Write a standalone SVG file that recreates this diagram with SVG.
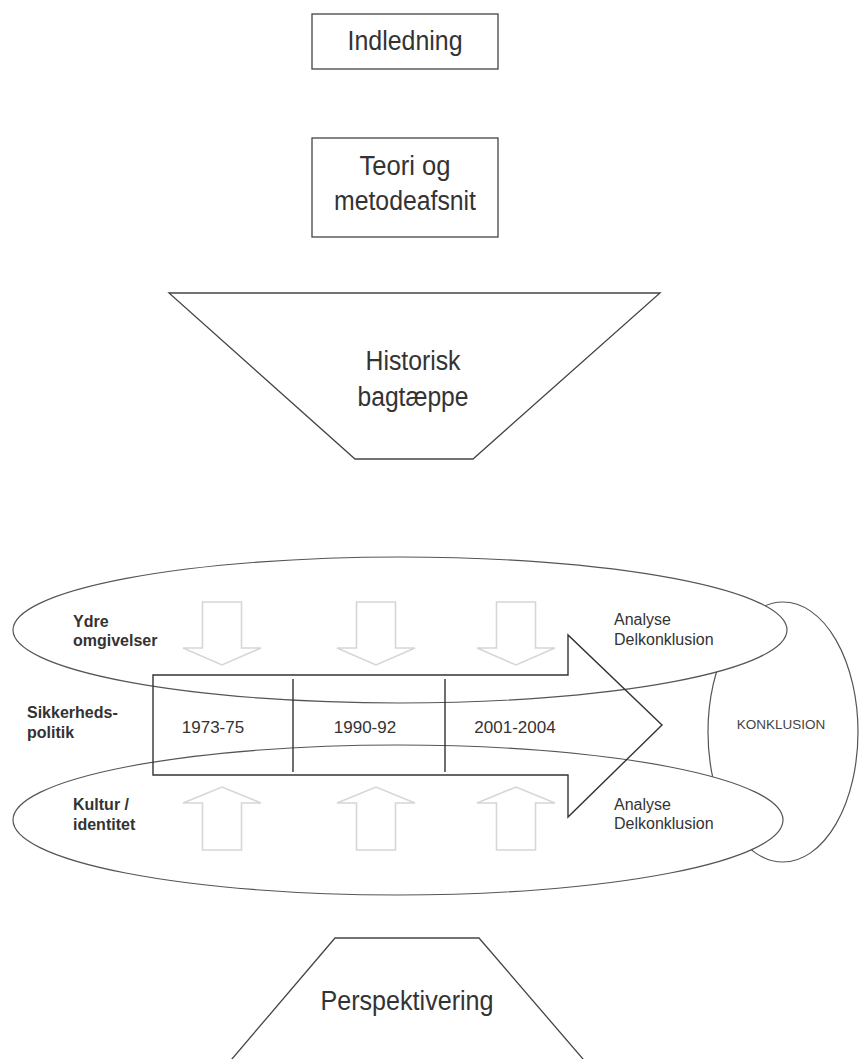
<svg xmlns="http://www.w3.org/2000/svg" width="859" height="1059" viewBox="0 0 859 1059">
<style>
  .shape { fill: #ffffff; stroke: #444444; stroke-width: 1.3; }
  .line { fill: none; stroke: #333333; stroke-width: 1.4; }
  .ell { fill: #ffffff; stroke: #555555; stroke-width: 1.2; }
  .light { fill: #ffffff; stroke: #d6d6d6; stroke-width: 1.6; }
  .big { font-family: "Liberation Sans Narrow", "Liberation Sans", Arial, sans-serif; font-size: 27px; fill: #333333; text-anchor: middle; }
  .lbl { font-family: "Liberation Sans", Arial, sans-serif; font-size: 16px; font-weight: bold; fill: #333333; }
  .sm { font-family: "Liberation Sans", Arial, sans-serif; font-size: 16px; fill: #333333; }
  .yr { font-family: "Liberation Sans", Arial, sans-serif; font-size: 17px; fill: #333333; text-anchor: middle; }
  .kon { font-family: "Liberation Sans", Arial, sans-serif; font-size: 13.5px; fill: #444444; text-anchor: middle; }
</style>
<rect x="0" y="0" width="859" height="1059" fill="#ffffff"/>

<g id="indledning">
  <rect class="shape" x="312" y="14" width="186" height="55"/>
  <text class="big" x="405" y="50" textLength="115" lengthAdjust="spacingAndGlyphs">Indledning</text>
</g>

<g id="teori">
  <rect class="shape" x="312" y="138" width="186" height="99"/>
  <text class="big" x="405" y="175" textLength="91" lengthAdjust="spacingAndGlyphs">Teori og</text>
  <text class="big" x="405" y="210" textLength="142" lengthAdjust="spacingAndGlyphs">metodeafsnit</text>
</g>

<g id="historisk">
  <polygon class="shape" points="169,293 660,293 473,459 355,459"/>
  <text class="big" x="413" y="370" textLength="95" lengthAdjust="spacingAndGlyphs">Historisk</text>
  <text class="big" x="413" y="406" textLength="111" lengthAdjust="spacingAndGlyphs">bagtæppe</text>
</g>

<g id="konklusion">
  <ellipse class="ell" cx="783" cy="732" rx="75" ry="130"/>
  <text class="kon" x="781" y="729">KONKLUSION</text>
</g>

<g id="ydre-omgivelser">
  <ellipse class="ell" cx="400" cy="630" rx="387" ry="73"/>
  <text class="lbl" x="73" y="627">Ydre</text>
  <text class="lbl" x="73" y="646">omgivelser</text>
  <text class="sm" x="614" y="625">Analyse</text>
  <text class="sm" x="614" y="645">Delkonklusion</text>
</g>

<g id="kultur-identitet">
  <ellipse class="ell" cx="398" cy="820" rx="385" ry="75"/>
  <text class="lbl" x="73" y="810">Kultur /</text>
  <text class="lbl" x="73" y="830">identitet</text>
  <text class="sm" x="614" y="810">Analyse</text>
  <text class="sm" x="614" y="829">Delkonklusion</text>
</g>

<g id="connectors">
  <polygon class="light" points="202.5,602 241.5,602 241.5,648 261,648 222,665 183,648 202.5,648"/>
  <polygon class="light" points="356.5,602 395.5,602 395.5,648 415,648 376,665 337,648 356.5,648"/>
  <polygon class="light" points="496.5,602 535.5,602 535.5,648 555,648 516,665 477,648 496.5,648"/>
  <polygon class="light" points="202.5,850 241.5,850 241.5,803 261,803 222,787 183,803 202.5,803"/>
  <polygon class="light" points="356.5,850 395.5,850 395.5,803 415,803 376,787 337,803 356.5,803"/>
  <polygon class="light" points="496.5,850 535.5,850 535.5,803 555,803 516,787 477,803 496.5,803"/>
</g>

<g id="sikkerhedspolitik">
  <polygon class="line" points="153,675 568,675 568,635 662,725 568,817 568,775 153,775"/>
  <line class="line" x1="293" y1="679" x2="293" y2="772"/>
  <line class="line" x1="445" y1="679" x2="445" y2="772"/>
  <text class="lbl" x="27" y="718">Sikkerheds-</text>
  <text class="lbl" x="27" y="738">politik</text>
  <text class="yr" x="213" y="733">1973-75</text>
  <text class="yr" x="365" y="733">1990-92</text>
  <text class="yr" x="515" y="733">2001-2004</text>
</g>

<g id="perspektivering">
  <polygon class="shape" points="335,938 479,938 589,1066 226,1066"/>
  <text class="big" x="407" y="1010" textLength="173" lengthAdjust="spacingAndGlyphs">Perspektivering</text>
</g>
</svg>
